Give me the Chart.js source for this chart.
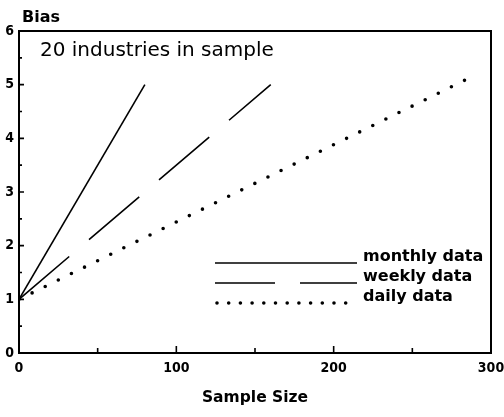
<!DOCTYPE html>
<html>
<head>
<meta charset="utf-8">
<script src="https://cdn.jsdelivr.net/npm/chart.js@4"></script>
<style>
  html, body { margin: 0; padding: 0; background: #fff; }
  #wrap { width: 504px; height: 417px; }
</style>
</head>
<body>
<div id="wrap"><canvas id="biasChart" width="504" height="417"></canvas></div>
<script>
// values
const monthlySize = [0, 80];
const monthlyBias = [1, 5];
const weeklySize = [0, 160];
const weeklyBias = [1, 5];
const dailySize = [0, 288];
const dailyBias = [1, 5.15];
const xTicks = [0, 100, 200, 300];
const yTicks = [0, 1, 2, 3, 4, 5, 6];
const seriesNames = ['monthly data', 'weekly data', 'daily data'];

const FONT = '"DejaVu Sans", sans-serif';
const TICK_FONT = '"DejaVu Sans Condensed", "DejaVu Sans", sans-serif';
const toPoints = (xs, ys) => xs.map((x, i) => ({ x: x, y: ys[i] }));

const lineStyles = [
    { borderDash: [], borderWidth: 1.6, borderCapStyle: 'butt' },
    { borderDash: [66, 26], borderWidth: 1.6, borderCapStyle: 'butt' },
    { borderDash: [0, 14.6], borderWidth: 3.6, borderCapStyle: 'round' }
];

// inward ticks, frame, texts and legend drawn on top of the chart
const decorations = {
    id: 'decorations',
    afterDraw(chart) {
        const c = chart.ctx;
        const a = chart.chartArea;
        const xs = chart.scales.x, ys = chart.scales.y;
        c.save();
        c.strokeStyle = '#000';
        c.lineWidth = 2;
        c.strokeRect(a.left, a.top, a.right - a.left, a.bottom - a.top);

        c.lineWidth = 1.6;
        c.beginPath();
        for (let v = 0; v <= 300; v += 50) {
            const px = xs.getPixelForValue(v);
            const len = v % 100 === 0 ? 7 : 5;
            c.moveTo(px, a.bottom);
            c.lineTo(px, a.bottom - len);
        }
        for (let v = 0; v <= 6; v += 0.5) {
            const py = ys.getPixelForValue(v);
            const len = v % 1 === 0 ? 5 : 3;
            c.moveTo(a.left, py);
            c.lineTo(a.left + len, py);
        }
        c.stroke();

        c.fillStyle = '#000';
        c.textBaseline = 'middle';
        c.textAlign = 'left';
        c.font = 'bold 16px ' + FONT;
        c.fillText('Bias', 22, 18);
        c.font = '20px ' + FONT;
        c.fillText('20 industries in sample', 40, 51);

        // legend
        const rows = [263, 283, 303];
        const x0 = 215, x1 = 357;
        chart.data.datasets.forEach((ds, i) => {
            c.save();
            c.lineWidth = ds.borderWidth;
            c.lineCap = ds.borderCapStyle;
            c.beginPath();
            if (i === 1) {
                c.moveTo(x0, rows[i]); c.lineTo(275, rows[i]);
                c.moveTo(300, rows[i]); c.lineTo(x1, rows[i]);
            } else if (i === 2) {
                c.setLineDash([0, 11.7]);
                c.moveTo(217, rows[i]); c.lineTo(354, rows[i]);
            } else {
                c.moveTo(x0, rows[i]); c.lineTo(x1, rows[i]);
            }
            c.stroke();
            c.restore();
            c.font = 'bold 16px ' + FONT;
            c.fillText(ds.label, 363, rows[i] - 6);
        });
        c.restore();
    }
};

new Chart(document.getElementById('biasChart'), {
    type: 'scatter',
    data: {
        datasets: [
            { label: seriesNames[0], data: toPoints(monthlySize, monthlyBias) },
            { label: seriesNames[1], data: toPoints(weeklySize, weeklyBias) },
            { label: seriesNames[2], data: toPoints(dailySize, dailyBias) }
        ].map((ds, i) => Object.assign(ds, lineStyles[i], {
            showLine: true,
            borderColor: '#000',
            pointRadius: 0,
            fill: false,
            tension: 0
        }))
    },
    options: {
        responsive: false,
        animation: false,
        layout: { padding: { left: 0, top: 31, right: 13, bottom: 0 } },
        plugins: {
            legend: { display: false },
            tooltip: { enabled: false }
        },
        scales: {
            x: {
                type: 'linear',
                min: 0,
                max: 300,
                afterBuildTicks: s => { s.ticks = xTicks.map(v => ({ value: v })); },
                afterFit: s => { s.height = 64; s.paddingLeft = 0; s.paddingRight = 0; },
                grid: { display: false, drawTicks: false },
                border: { display: false },
                ticks: { color: '#000', padding: 7, maxRotation: 0, font: { family: TICK_FONT, size: 14, weight: 'bold' } },
                title: {
                    display: true,
                    text: 'Sample Size',
                    color: '#000',
                    padding: { top: 0, bottom: 10 },
                    font: { family: FONT, size: 15.5, weight: 'bold' }
                }
            },
            y: {
                type: 'linear',
                min: 0,
                max: 6,
                afterBuildTicks: s => { s.ticks = yTicks.map(v => ({ value: v })); },
                afterFit: s => { s.width = 19; s.paddingTop = 0; s.paddingBottom = 0; },
                grid: { display: false, drawTicks: false },
                border: { display: false },
                ticks: { color: '#000', padding: 5, font: { family: TICK_FONT, size: 14, weight: 'bold' } }
            }
        }
    },
    plugins: [decorations]
});
</script>
</body>
</html>
